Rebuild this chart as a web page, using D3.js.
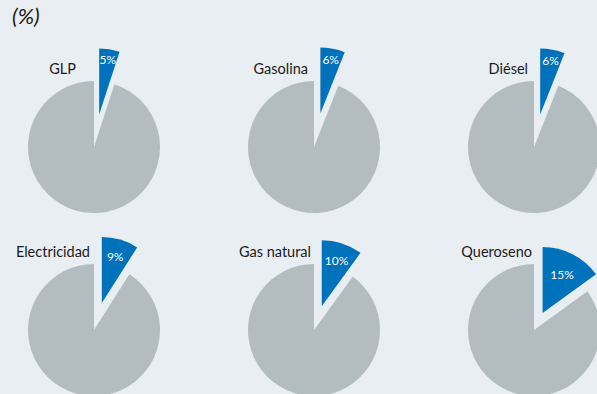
<!DOCTYPE html>
<html>
<head>
<meta charset="utf-8">
<script src="https://cdn.jsdelivr.net/npm/d3@7"></script>
<style>
  html, body { margin: 0; padding: 0; background: #e9eef2; }
  svg { display: block; }
</style>
</head>
<body>
<svg id="chart" width="597" height="394"></svg>
<script>
// Share of each energy source (%)
const categories = ["GLP", "Gasolina", "Diésel", "Electricidad", "Gas natural", "Queroseno"];
const shares = [5, 6, 6, 9, 10, 15];
const unitLabel = "(%)";

// Layout for each small pie: how far the highlighted slice is pulled out,
// where its value label sits, and where the category name ends.
const explodeBy = [33, 34, 33, 28, 25, 19];
const labelRadius = [55, 55, 55, 48, 48, 43];
const nameShift = [-18, -6, -6, -4, -3, -2];

const W = 597, H = 394;
const R = 66;
const colors = { rest: "#b3bdc0", share: "#0071bb", bg: "#e9eef2" };
const font = "Lato, 'Liberation Sans', sans-serif";

const svg = d3.select("#chart");
svg.append("rect").attr("width", W).attr("height", H).attr("fill", colors.bg);

svg.append("text")
  .attr("x", 12).attr("y", 24)
  .attr("font-family", font)
  .attr("font-style", "italic")
  .attr("font-size", 22)
  .attr("fill", "#1a1a1a")
  .text(unitLabel);

// grid placement of the six pies
const col = d3.scalePoint().domain([0, 1, 2]).range([94, 534]);
const row = d3.scalePoint().domain([0, 1]).range([147, 330]);

const pie = d3.pie().sort(null).value(d => d);
const arc = d3.arc().innerRadius(0).outerRadius(R);

categories.forEach((name, i) => {
  const cx = col(i % 3), cy = row(Math.floor(i / 3));
  const g = svg.append("g").attr("transform", `translate(${cx},${cy})`);
  const [shareSlice, restSlice] = pie([shares[i], 100 - shares[i]]);

  g.append("path").attr("d", arc(restSlice)).attr("fill", colors.rest);

  const mid = (shareSlice.startAngle + shareSlice.endAngle) / 2;
  const dx = Math.sin(mid) * explodeBy[i], dy = -Math.cos(mid) * explodeBy[i];
  const sg = g.append("g").attr("transform", `translate(${dx},${dy})`);
  sg.append("path").attr("d", arc(shareSlice)).attr("fill", colors.share);

  const lr = labelRadius[i];
  sg.append("text")
    .attr("x", Math.sin(mid) * lr)
    .attr("y", -Math.cos(mid) * lr)
    .attr("dy", "0.35em")
    .attr("text-anchor", "middle")
    .attr("font-family", font)
    .attr("font-size", 12)
    .attr("fill", "#ffffff")
    .text(shares[i] + "%");

  g.append("text")
    .attr("x", nameShift[i])
    .attr("y", -R - 7.5)
    .attr("text-anchor", "end")
    .attr("font-family", font)
    .attr("font-size", 14.5)
    .attr("fill", "#1a1a1a")
    .text(name);
});
</script>
</body>
</html>
